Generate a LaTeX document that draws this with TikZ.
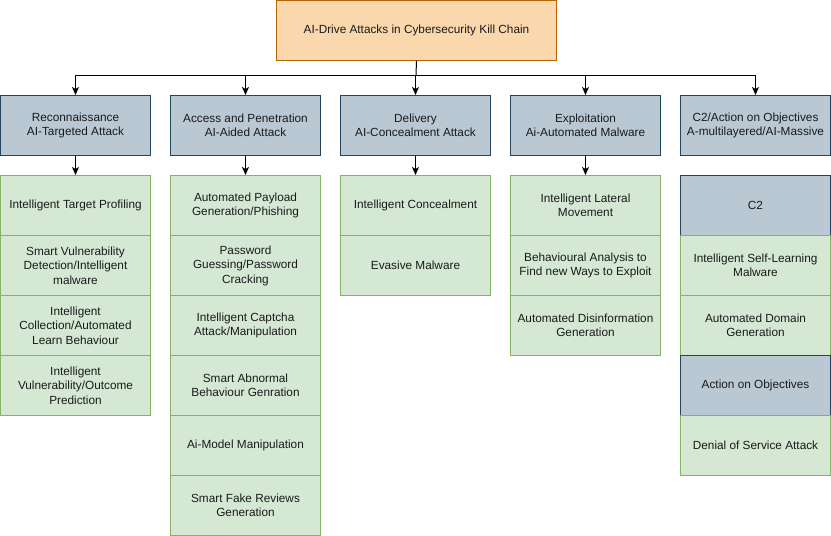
\documentclass[tikz,border=0pt]{standalone}
\usepackage{fontspec}
\setmainfont{Liberation Sans}
\usetikzlibrary{arrows.meta}
\definecolor{orfill}{HTML}{FAD7AC}
\definecolor{ordraw}{HTML}{B46504}
\definecolor{blfill}{HTML}{BAC8D3}
\definecolor{bldraw}{HTML}{23445D}
\definecolor{grfill}{HTML}{D5E8D4}
\definecolor{grdraw}{HTML}{82B366}
\definecolor{txt}{HTML}{1A1A1A}
\tikzset{
  base/.style={rectangle, line width=1pt, minimum width=150pt, minimum height=60pt,
    anchor=north west, align=center, inner sep=2pt, text=txt,
    font=\fontsize{11.8}{14.5}\selectfont},
  topbox/.style={base, fill=orfill, draw=ordraw, minimum width=280pt},
  head/.style={base, fill=blfill, draw=bldraw},
  item/.style={base, fill=grfill, draw=grdraw},
  conn/.style={line width=1pt, draw=black},
  arr/.style={conn, -{Stealth[length=8pt,width=7pt,inset=2pt]}}
}
\begin{document}
\begin{tikzpicture}[x=1pt,y=-1pt]
\useasboundingbox (0,0) rectangle (831,536);
\node[topbox] (top) at (276,0) {AI-Drive Attacks in Cybersecurity Kill Chain};
% headers
\node[head] (h1) at (0,95) {Reconnaissance\\AI-Targeted Attack};
\node[head] (h2) at (170,95) {Access and Penetration\\AI-Aided Attack};
\node[head] (h3) at (340,95) {Delivery\\AI-Concealment Attack};
\node[head] (h4) at (510,95) {Exploitation\\Ai-Automated Malware};
\node[head] (h5) at (680,95) {C2/Action on Objectives\\A-multilayered/AI-Massive};
% column 1
\node[item] (a1) at (0,175) {Intelligent Target Profiling};
\node[item] (a2) at (0,235) {Smart Vulnerability\\Detection/Intelligent\\malware};
\node[item] (a3) at (0,295) {Intelligent\\Collection/Automated\\Learn Behaviour};
\node[item] (a4) at (0,355) {Intelligent\\Vulnerability/Outcome\\Prediction};
% column 2
\node[item] (b1) at (170,175) {Automated Payload\\Generation/Phishing};
\node[item] (b2) at (170,235) {Password\\Guessing/Password\\Cracking};
\node[item] (b3) at (170,295) {Intelligent Captcha\\Attack/Manipulation};
\node[item] (b4) at (170,355) {Smart Abnormal\\Behaviour Genration};
\node[item] (b5) at (170,415) {Ai-Model Manipulation};
\node[item] (b6) at (170,475) {Smart Fake Reviews\\Generation};
% column 3
\node[item] (c1) at (340,175) {Intelligent Concealment};
\node[item] (c2) at (340,235) {Evasive Malware};
% column 4
\node[item] (d1) at (510,175) {Intelligent Lateral\\Movement};
\node[item] (d2) at (510,235) {Behavioural Analysis to\\Find new Ways to Exploit};
\node[item] (d3) at (510,295) {Automated Disinformation\\Generation};
% column 5
\node[head] (e1) at (680,175) {C2};
\node[item] (e2) at (680,235) {Intelligent Self-Learning\\Malware};
\node[item] (e3) at (680,295) {Automated Domain\\Generation};
\node[head] (e4) at (680,355) {Action on Objectives};
\node[item] (e5) at (680,415) {Denial of Service Attack};
% connectors
\coordinate (bus) at (416,75);
\draw[conn] (top.south) -- (bus);
\foreach \h in {h1,h2,h3,h4,h5} \draw[arr] (bus) -| (\h.north);
\draw[arr] (h1.south) -- (a1.north);
\draw[arr] (h2.south) -- (b1.north);
\draw[arr] (h3.south) -- (c1.north);
\draw[arr] (h4.south) -- (d1.north);
\end{tikzpicture}
\end{document}
